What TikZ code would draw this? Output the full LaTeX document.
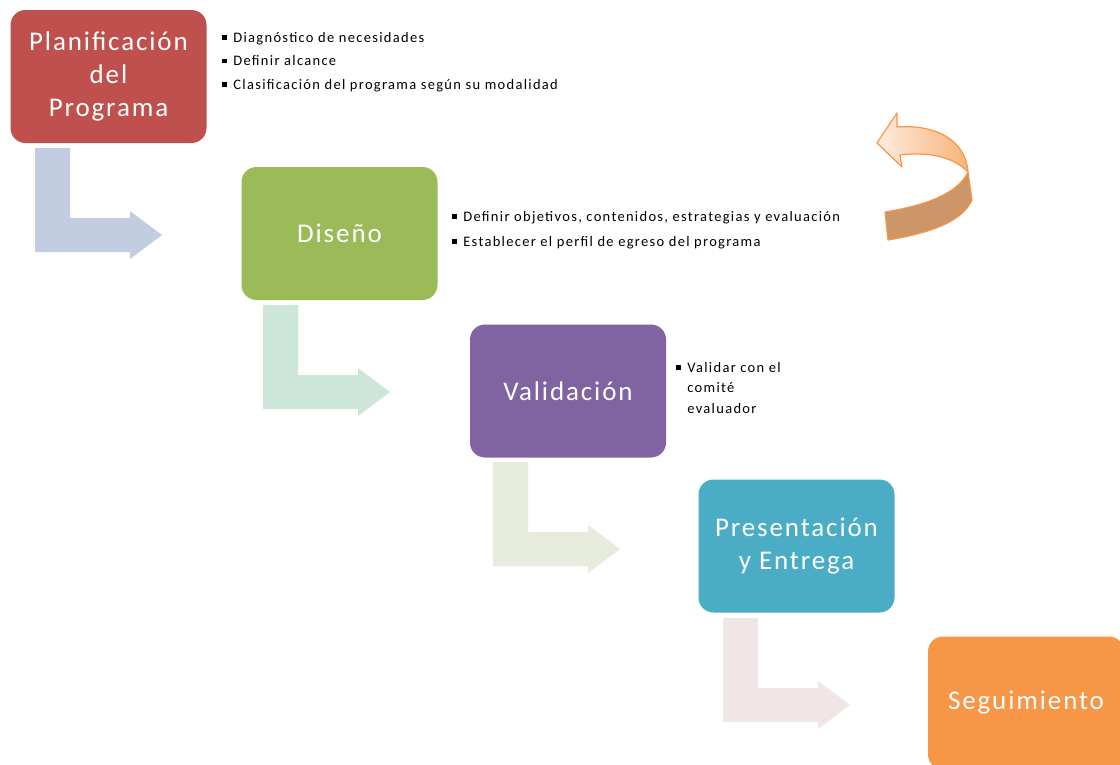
\documentclass[tikz,border=0pt]{standalone}
\usepackage{fontspec}
\setmainfont{Carlito}
\newfontfamily\boxfont[LetterSpace=7]{Carlito}
\newfontfamily\notefont[LetterSpace=9]{Carlito}
\definecolor{cRed}{HTML}{C0504D}
\definecolor{cGreen}{HTML}{9BBB59}
\definecolor{cPurple}{HTML}{8064A2}
\definecolor{cTeal}{HTML}{4BACC6}
\definecolor{cOrange}{HTML}{F79646}
\definecolor{aBlue}{HTML}{C3CDE1}
\definecolor{aGreen}{HTML}{CDE6DA}
\definecolor{aOlive}{HTML}{E6EBDB}
\definecolor{aPink}{HTML}{F1E6E6}
\definecolor{rLight}{HTML}{FDECDF}
\definecolor{rMid}{HTML}{F9B37A}
\definecolor{rDark}{HTML}{CC9669}
\newcommand{\bul}{\rule[.15em]{.32em}{.32em}\hspace{.45em}}
\newcommand{\larrowshape}{(35,148) -- (70,148) -- (70,218) -- (130,218) -- (130,211) -- (162,235) -- (130,259) -- (130,252) -- (35,252) -- cycle}
\tikzset{
  stagebox/.style={rounded corners=15pt, minimum width=196pt, minimum height=133pt,
    text=white, align=center, inner sep=0pt, font=\boxfont\fontsize{27}{33}\selectfont},
  note/.style={anchor=base west, inner sep=0pt, font=\notefont\fontsize{14.5}{20}\selectfont, align=left},
  ribbon/.style={draw=cOrange, line width=1.2pt, line join=round}
}
\begin{document}
\begin{tikzpicture}[x=1pt,y=-1pt]
\clip (0,0) rectangle (1120,764);
\fill[white] (0,0) rectangle (1120,764);

% L-shaped bending arrows
\fill[aBlue] \larrowshape;
\begin{scope}[shift={(228,157)}]\fill[aGreen] \larrowshape;\end{scope}
\begin{scope}[shift={(458,314)}]\fill[aOlive] \larrowshape;\end{scope}
\begin{scope}[shift={(688,470)}]\fill[aPink] \larrowshape;\end{scope}

% stage boxes
\node[stagebox, fill=cRed] (plan) at (108.5,76.5) {Planificación\\del\\Programa};
\node[stagebox, fill=cGreen] (dis) at (339.5,233.5) {Diseño};
\node[stagebox, fill=cPurple] (val) at (568,391) {Validación};
\node[stagebox, fill=cTeal] (pres) at (796.5,546) {Presentación\\y Entrega};
\node[stagebox, fill=cOrange] (seg) at (1026,703) {Seguimiento};

% notes
\node[note] (n1a) at (222,42) {\bul Diagnóstico de necesidades};
\node[note] (n1b) at (222,65.5) {\bul Definir alcance};
\node[note] (n1c) at (222,89) {\bul Clasificación del programa según su modalidad};
\node[note] (n2a) at (452,221) {\bul Definir objetivos, contenidos, estrategias y evaluación};
\node[note] (n2b) at (452,246) {\bul Establecer el perfil de egreso del programa};
\node[note] (n3a) at (676,372) {\bul Validar con el};
\node[note] (n3b) at (676,392) {\phantom{\bul}comité};
\node[note] (n3c) at (676,413) {\phantom{\bul}evaluador};

% curved return arrow
\path[ribbon, fill=rDark] (968,172) -- (972,200) .. controls (962,222) and (930,233) .. (888,240)
  -- (885,212) .. controls (928,205) and (958,193) .. cycle;
\path[ribbon, left color=rLight, right color=rMid] (877,143) -- (897,113) -- (897,127)
  .. controls (935,124) and (966,140) .. (968,172)
  .. controls (955,158) and (930,151) .. (900,155) -- (902,167) -- cycle;
\end{tikzpicture}
\end{document}
